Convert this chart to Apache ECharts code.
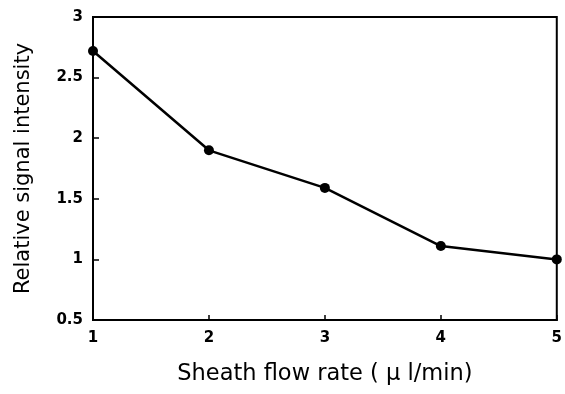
<!DOCTYPE html>
<html><head><meta charset="utf-8">
<script src="https://cdn.jsdelivr.net/npm/echarts@6/dist/echarts.min.js"></script>
<style>html,body{margin:0;padding:0;background:#fff}#c{width:565px;height:394px}</style>
</head><body><div id="c"></div>
<script>
var flowRates = [1, 2, 3, 4, 5];
var intensity = [2.72, 1.9, 1.59, 1.11, 1.0];
var yTicks = [0.5, 1, 1.5, 2, 2.5, 3];
var xTitle = 'Sheath flow rate ( \u03bc l/min)';
var yTitle = 'Relative signal intensity';

var chart = echarts.init(document.getElementById('c'), null, {renderer: 'canvas'});
var lblFont = {color: '#000', fontFamily: 'DejaVu Sans', fontWeight: 'bold', fontSize: 15};
chart.setOption({
  animation: false,
  backgroundColor: '#fff',
  grid: {left: 93, right: 4, top: 17, bottom: 74, show: true, borderColor: '#000', borderWidth: 2, backgroundColor: 'transparent'},
  xAxis: {
    type: 'value', min: 1, max: 5, interval: 1,
    name: xTitle, nameLocation: 'middle', nameGap: 43,
    nameTextStyle: {color: '#000', fontFamily: 'DejaVu Sans', fontSize: 22.5},
    axisLine: {lineStyle: {color: '#000', width: 2}},
    axisTick: {inside: true, length: 5, lineStyle: {color: '#000', width: 1.5}},
    axisLabel: Object.assign({margin: 11}, lblFont),
    splitLine: {show: false}
  },
  yAxis: {
    type: 'value', min: 0.5, max: 3, interval: 0.5,
    name: yTitle, nameLocation: 'middle', nameGap: 59,
    nameTextStyle: {color: '#000', fontFamily: 'DejaVu Sans', fontSize: 21},
    axisLine: {lineStyle: {color: '#000', width: 2}},
    axisTick: {inside: true, length: 6, lineStyle: {color: '#000', width: 1.5}},
    axisLabel: Object.assign({margin: 10, formatter: function(v){return String(v);}}, lblFont),
    splitLine: {show: false}
  },
  series: [{
    type: 'line',
    data: flowRates.map(function(x, i){ return [x, intensity[i]]; }),
    symbol: 'circle', symbolSize: 10,
    itemStyle: {color: '#000'},
    lineStyle: {color: '#000', width: 2.5},
    clip: false
  }]
});
</script></body></html>
